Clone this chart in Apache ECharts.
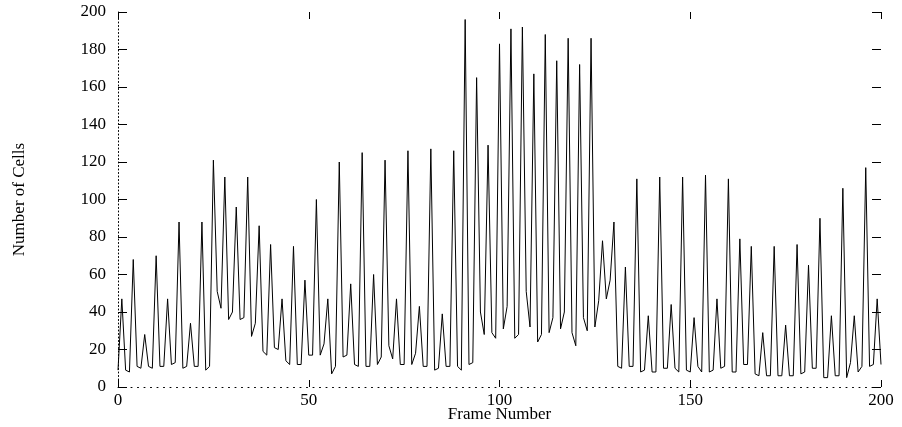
<!DOCTYPE html>
<html>
<head>
<meta charset="utf-8">
<script src="https://cdn.jsdelivr.net/npm/echarts@6/dist/echarts.min.js"></script>
<style>
    html, body { margin: 0; padding: 0; background: #fff; }
    #main { width: 902px; height: 427px; }
</style>
</head>
<body>
<div id="main"></div>
<script>
// cells per frame, frames 0..200
var cells = [
    9, 47, 9, 8, 68, 11, 10, 28, 11, 10,
    70, 11, 11, 47, 12, 13, 88, 10, 11, 34,
    11, 11, 88, 9, 11, 121, 51, 42, 112, 36,
    40, 96, 36, 37, 112, 27, 34, 86, 19, 17,
    76, 21, 20, 47, 14, 12, 75, 12, 12, 57,
    17, 17, 100, 17, 23, 47, 7, 11, 120, 16,
    17, 55, 12, 11, 125, 11, 11, 60, 12, 16,
    121, 22, 15, 47, 12, 12, 126, 12, 18, 43,
    11, 11, 127, 9, 10, 39, 11, 11, 126, 11,
    9, 196, 12, 13, 165, 40, 28, 129, 29, 26,
    183, 31, 43, 191, 26, 28, 192, 51, 32, 167,
    24, 28, 188, 29, 37, 174, 31, 40, 186, 29,
    22, 172, 37, 30, 186, 32, 46, 78, 47, 57,
    88, 11, 10, 64, 11, 11, 111, 8, 9, 38,
    8, 8, 112, 10, 10, 44, 10, 8, 112, 9,
    8, 37, 11, 8, 113, 8, 9, 47, 10, 11,
    111, 8, 8, 79, 12, 12, 75, 7, 6, 29,
    6, 6, 75, 6, 6, 33, 6, 6, 76, 7,
    8, 65, 10, 10, 90, 5, 5, 38, 6, 6,
    106, 5, 13, 38, 8, 11, 117, 11, 12, 47,
    12
];
var xTicks = [0, 50, 100, 150, 200];
var yTicks = [0, 20, 40, 60, 80, 100, 120, 140, 160, 180, 200];

var chart = echarts.init(document.getElementById('main'));
var font = 'Liberation Serif';
var ink = '#000';

var points = cells.map(function (v, i) { return [i, v]; });

// frame axes: bottom/left carry dotted lines and labels, top/right only ticks
function xAx(pos, extra) {
    return Object.assign({
        type: 'value', position: pos,
        min: xTicks[0], max: xTicks[xTicks.length - 1], interval: 50,
        axisTick: { show: true, inside: true, length: 7, lineStyle: { color: ink } },
        splitLine: { show: false }
    }, extra);
}
function yAx(pos, extra) {
    return Object.assign({
        type: 'value', position: pos,
        min: yTicks[0], max: yTicks[yTicks.length - 1], interval: 20,
        axisTick: { show: true, inside: true, length: 9, lineStyle: { color: ink } },
        splitLine: { show: false }
    }, extra);
}

var option = {
    animation: false,
    backgroundColor: '#fff',
    grid: { left: 118, right: 21, top: 12, bottom: 40, outerBoundsMode: 'none', containLabel: false },
    xAxis: [
        xAx('bottom', {
            name: 'Frame Number', nameLocation: 'middle', nameGap: 19, nameMoveOverlap: false,
            nameTextStyle: { fontFamily: font, fontSize: 17, color: ink },
            axisLine: { show: true, onZero: false, lineStyle: { color: ink, width: 1, type: [1, 5.5] } },
            axisLabel: { fontFamily: font, fontSize: 17, color: ink, margin: 5 }
        }),
        xAx('top', {
            axisLine: { show: false, onZero: false },
            axisLabel: { show: false }
        })
    ],
    yAxis: [
        yAx('left', {
            name: 'Number of Cells', nameLocation: 'middle', nameGap: 90, nameMoveOverlap: false,
            nameTextStyle: { fontFamily: font, fontSize: 17, color: ink },
            axisLine: { show: true, onZero: false, lineStyle: { color: ink, width: 1, type: [1, 2.5] } },
            axisLabel: { fontFamily: font, fontSize: 17, color: ink, margin: 12 }
        }),
        yAx('right', {
            axisLine: { show: false, onZero: false },
            axisLabel: { show: false }
        })
    ],
    series: [
        {
            type: 'line',
            data: points,
            showSymbol: false,
            symbol: 'none',
            lineStyle: { color: ink, width: 1 }
        }
    ]
};
chart.setOption(option);
</script>
</body>
</html>
